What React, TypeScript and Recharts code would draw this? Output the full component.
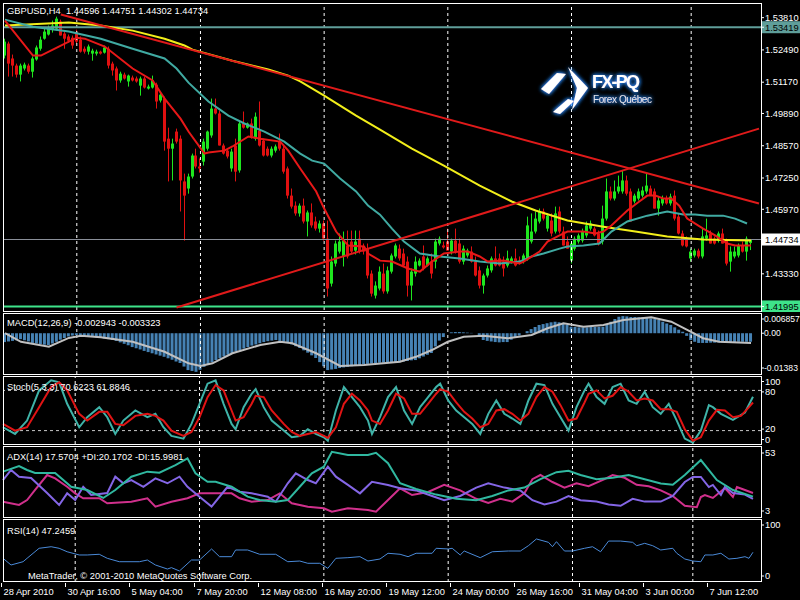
import React from 'react'
import { Bar, ComposedChart, Line, ReferenceLine, XAxis, YAxis } from 'recharts'

const FONT = '"Liberation Sans", Arial, sans-serif'
const SLOTS = 190

const UP = '#1ee61e'
const DOWN = '#e01010'

// GBPUSD H4, bar 0 = 28 Apr 2010 00:00
const opens = [
  1.5226, 1.5275, 1.5214, 1.5185, 1.5148, 1.5173, 1.5185, 1.516, 1.521, 1.5254, 1.5295, 1.5312, 1.5332, 1.5336, 1.5365, 1.5316,
  1.5304, 1.5299, 1.532, 1.5291, 1.5254, 1.5242, 1.5234, 1.5234, 1.5242, 1.5238, 1.5254, 1.5193, 1.5173, 1.5124, 1.5148, 1.512,
  1.5136, 1.5132, 1.5103, 1.5132, 1.5091, 1.5095, 1.5107, 1.5042, 1.505, 1.4886, 1.4845, 1.4915, 1.4886, 1.4711, 1.4682,
  1.4731, 1.4817, 1.4772, 1.4792, 1.4845, 1.4899, 1.5009, 1.4989, 1.4858, 1.4837, 1.4764, 1.4858, 1.4756, 1.4948, 1.4931, 1.4948,
  1.4886, 1.4919, 1.4878, 1.4845, 1.4817, 1.4837, 1.4874, 1.4845, 1.4764, 1.4653, 1.4612, 1.458, 1.4612, 1.4547, 1.4584, 1.4547,
  1.4518, 1.4539, 1.4477, 1.4293, 1.4375, 1.4424, 1.4404, 1.4449, 1.4465, 1.4428, 1.4477, 1.4445, 1.4436, 1.4334, 1.4244, 1.4273,
  1.4334, 1.4261, 1.4342, 1.4404, 1.4436, 1.4416, 1.4383, 1.4285, 1.4334, 1.4367, 1.4404, 1.4367, 1.4383, 1.4383, 1.4457, 1.4449,
  1.4465, 1.4424, 1.4469, 1.4457, 1.4383, 1.4408, 1.4424, 1.4383, 1.4347, 1.4285, 1.4326, 1.4347, 1.4396, 1.4396, 1.4383, 1.4367,
  1.4383, 1.4396, 1.4387, 1.4383, 1.4396, 1.4465, 1.4506, 1.4547, 1.4588, 1.4518, 1.4551, 1.4506, 1.4588, 1.4506, 1.4465,
  1.4387, 1.4436, 1.4465, 1.4469, 1.449, 1.4518, 1.4518, 1.4498, 1.4465, 1.4559, 1.467, 1.4641, 1.467, 1.467, 1.4715, 1.467,
  1.4629, 1.4641, 1.4653, 1.467, 1.4682, 1.467, 1.46, 1.4621, 1.4641, 1.4621, 1.4653, 1.4567, 1.4498, 1.4477, 1.4396, 1.4408,
  1.4428, 1.4404, 1.4477, 1.4498, 1.4477, 1.4469, 1.4498, 1.4469, 1.4383, 1.4404, 1.4408, 1.4449, 1.4424, 1.44596,
]
const highs = [
  1.5295, 1.5283, 1.523, 1.5193, 1.5193, 1.5197, 1.5193, 1.5222, 1.5267, 1.5304, 1.5336, 1.5349, 1.5369, 1.5385, 1.5373, 1.5324,
  1.5312, 1.5308, 1.5332, 1.5304, 1.5263, 1.5271, 1.5254, 1.525, 1.5246, 1.5267, 1.5263, 1.5201, 1.5181, 1.516, 1.5156, 1.5148,
  1.5144, 1.514, 1.514, 1.514, 1.5107, 1.5144, 1.5115, 1.5075, 1.5058, 1.4931, 1.4886, 1.4927, 1.4899, 1.4743, 1.4743,
  1.4825, 1.4845, 1.4805, 1.4886, 1.4919, 1.505, 1.505, 1.5001, 1.4866, 1.4845, 1.4845, 1.4886, 1.496, 1.4997, 1.4952, 1.4968,
  1.4993, 1.5038, 1.4886, 1.4854, 1.4854, 1.4862, 1.4907, 1.4862, 1.4772, 1.4682, 1.4629, 1.4621, 1.4641, 1.4592, 1.4621, 1.4567,
  1.4551, 1.4551, 1.4551, 1.4404, 1.4469, 1.4498, 1.4506, 1.451, 1.451, 1.451, 1.451, 1.4457, 1.4457, 1.4347, 1.4302, 1.4363,
  1.4375, 1.4363, 1.4416, 1.4457, 1.4453, 1.4436, 1.4404, 1.4355, 1.4404, 1.4396, 1.4449, 1.4404, 1.4416, 1.4477, 1.4486, 1.4465,
  1.4518, 1.4477, 1.4518, 1.4477, 1.4449, 1.4436, 1.4445, 1.4404, 1.4363, 1.4334, 1.4367, 1.4404, 1.4445, 1.4416, 1.4404, 1.4428,
  1.4404, 1.4436, 1.4404, 1.4416, 1.4567, 1.458, 1.4588, 1.46, 1.46, 1.458, 1.458, 1.4608, 1.4608, 1.4526, 1.4486,
  1.4465, 1.4486, 1.4498, 1.4518, 1.4547, 1.4551, 1.4526, 1.451, 1.4612, 1.4723, 1.469, 1.4715, 1.4735, 1.4756, 1.4735, 1.4682,
  1.4661, 1.4682, 1.469, 1.4743, 1.4694, 1.4682, 1.4649, 1.4653, 1.4653, 1.4661, 1.4674, 1.458, 1.451, 1.4486, 1.4436, 1.4436,
  1.4436, 1.4518, 1.4559, 1.451, 1.4486, 1.4506, 1.4518, 1.4477, 1.4445, 1.4445, 1.4457, 1.4465, 1.4486, 1.44751,
]
const lows = [
  1.5214, 1.514, 1.514, 1.5136, 1.512, 1.5165, 1.5152, 1.5136, 1.5205, 1.5246, 1.5291, 1.5308, 1.532, 1.5328, 1.5308, 1.5254,
  1.5279, 1.5254, 1.5275, 1.5238, 1.5234, 1.523, 1.5205, 1.5226, 1.523, 1.5234, 1.5173, 1.5144, 1.5083, 1.5115, 1.5128, 1.5099,
  1.512, 1.5115, 1.5062, 1.5091, 1.5087, 1.5091, 1.5009, 1.5034, 1.4837, 1.4711, 1.4715, 1.4866, 1.4588, 1.4469, 1.4661,
  1.4723, 1.4764, 1.4747, 1.4776, 1.4837, 1.489, 1.4985, 1.4858, 1.4821, 1.4805, 1.4751, 1.4711, 1.4747, 1.4927, 1.4927, 1.4886,
  1.4878, 1.4854, 1.4813, 1.4813, 1.4809, 1.4829, 1.4837, 1.4743, 1.4641, 1.46, 1.4571, 1.4567, 1.4539, 1.4486, 1.4522, 1.451,
  1.4502, 1.4469, 1.424, 1.4281, 1.4363, 1.4416, 1.4363, 1.4396, 1.4416, 1.4412, 1.4416, 1.4412, 1.4314, 1.424, 1.4232, 1.4265,
  1.4252, 1.4252, 1.4334, 1.4396, 1.4387, 1.4363, 1.424, 1.4224, 1.4322, 1.4363, 1.4347, 1.4363, 1.4314, 1.4355, 1.4449, 1.4436,
  1.4428, 1.4412, 1.4416, 1.4375, 1.4371, 1.44, 1.4379, 1.4322, 1.4273, 1.4252, 1.4318, 1.4338, 1.4363, 1.4363, 1.4322, 1.4359,
  1.4375, 1.4363, 1.4371, 1.4375, 1.4387, 1.4457, 1.4498, 1.4539, 1.4551, 1.4506, 1.4486, 1.4498, 1.4498, 1.4449, 1.4436,
  1.4375, 1.4428, 1.4457, 1.4461, 1.4481, 1.451, 1.4486, 1.4449, 1.4453, 1.4551, 1.4633, 1.4633, 1.4661, 1.4661, 1.4653, 1.4547,
  1.4621, 1.4633, 1.4645, 1.4661, 1.4653, 1.46, 1.4571, 1.4612, 1.4616, 1.4612, 1.4551, 1.4494, 1.4445, 1.4441, 1.4383, 1.44,
  1.4396, 1.4396, 1.4469, 1.4457, 1.4453, 1.4461, 1.4457, 1.4367, 1.4342, 1.4396, 1.44, 1.442, 1.4387, 1.44302,
]
const closes = [
  1.5283, 1.5193, 1.5185, 1.5148, 1.5185, 1.5189, 1.516, 1.5214, 1.5259, 1.5291, 1.5324, 1.534, 1.5349, 1.5377, 1.5308, 1.5295,
  1.5287, 1.5267, 1.5283, 1.5242, 1.5242, 1.5263, 1.5246, 1.5242, 1.5234, 1.5259, 1.5185, 1.5165, 1.5124, 1.5152, 1.5132, 1.5144,
  1.5124, 1.512, 1.5132, 1.5095, 1.5099, 1.5124, 1.5038, 1.5066, 1.4874, 1.4845, 1.4866, 1.4874, 1.4715, 1.4653, 1.4731,
  1.4817, 1.4772, 1.4764, 1.4874, 1.4915, 1.5009, 1.4989, 1.4858, 1.4825, 1.4813, 1.4833, 1.4751, 1.4948, 1.4931, 1.4948, 1.4895,
  1.4976, 1.4858, 1.4817, 1.4817, 1.4845, 1.4854, 1.4845, 1.4751, 1.4653, 1.4608, 1.458, 1.4612, 1.4547, 1.4584, 1.4531, 1.4518,
  1.4539, 1.4477, 1.4273, 1.4383, 1.4457, 1.4465, 1.4469, 1.4404, 1.4424, 1.4465, 1.4424, 1.4424, 1.4326, 1.4252, 1.4285, 1.4342,
  1.4261, 1.4347, 1.4408, 1.4449, 1.4396, 1.4367, 1.4285, 1.4342, 1.4383, 1.4387, 1.4355, 1.4396, 1.4334, 1.4465, 1.4477, 1.4441,
  1.4428, 1.4469, 1.4424, 1.4383, 1.4436, 1.4428, 1.4383, 1.4326, 1.4285, 1.4326, 1.4355, 1.4396, 1.4367, 1.4367, 1.4355, 1.4396,
  1.4396, 1.4367, 1.4375, 1.4408, 1.4531, 1.4506, 1.4559, 1.4588, 1.4559, 1.4571, 1.4498, 1.458, 1.4506, 1.4449, 1.4436,
  1.4457, 1.4477, 1.449, 1.4506, 1.4531, 1.4539, 1.449, 1.4457, 1.4559, 1.467, 1.4641, 1.467, 1.469, 1.4715, 1.4661, 1.4547,
  1.4653, 1.467, 1.4674, 1.4694, 1.4653, 1.46, 1.4633, 1.4641, 1.4621, 1.4649, 1.4559, 1.4498, 1.4449, 1.4445, 1.4424, 1.4428,
  1.4404, 1.4486, 1.449, 1.4457, 1.4457, 1.4498, 1.4457, 1.4375, 1.4424, 1.4424, 1.4449, 1.4424, 1.4477, 1.44734,
]

// moving averages: [bar, price]
const maFast = [
  [0, 1.5369], [7, 1.5226], [9, 1.5226], [14, 1.5267], [18, 1.5299], [20, 1.5295], [25, 1.5263], [32, 1.5173], [37, 1.5124],
  [40, 1.505], [44, 1.4968], [46, 1.4915], [50, 1.4825], [51, 1.4829], [55, 1.4837], [57, 1.4854], [61, 1.4895], [64, 1.4886],
  [69, 1.4874], [71, 1.4837], [74, 1.4764], [78, 1.467], [80, 1.46], [83, 1.4506], [86, 1.4449], [90, 1.4445], [91, 1.4416],
  [94, 1.4387], [97, 1.4383], [101, 1.4355], [104, 1.4342], [107, 1.4383], [110, 1.4416], [114, 1.4424], [116, 1.4424],
  [119, 1.4404], [121, 1.4383], [125, 1.4387], [129, 1.4375], [130, 1.4383], [134, 1.4424], [136, 1.4465], [139, 1.449],
  [141, 1.4506], [145, 1.4506], [148, 1.4498], [150, 1.4506], [152, 1.4531], [156, 1.4592], [159, 1.4629], [161, 1.4653],
  [163, 1.4653], [165, 1.4641], [167, 1.4641], [169, 1.4612], [171, 1.4559], [175, 1.4518], [178, 1.449], [181, 1.4457],
  [183, 1.4449], [187, 1.4449],
]
const maMid = [
  [0, 1.5373], [7, 1.5344], [16, 1.5324], [24, 1.5295], [32, 1.5254], [40, 1.5214], [43, 1.5173], [46, 1.5115], [51, 1.5038],
  [56, 1.498], [60, 1.4948], [65, 1.4915], [70, 1.4874], [74, 1.4825], [77, 1.4796], [80, 1.4784], [84, 1.4723], [88, 1.467],
  [91, 1.4612], [94, 1.4575], [97, 1.4518], [100, 1.4465], [104, 1.4416], [109, 1.4404], [114, 1.4396], [119, 1.4383],
  [124, 1.4375], [129, 1.4383], [132, 1.4404], [135, 1.4416], [139, 1.4436], [141, 1.4445], [145, 1.4449], [149, 1.4457],
  [152, 1.4506], [156, 1.4547], [161, 1.4571], [166, 1.4588], [170, 1.4576], [173, 1.4576], [176, 1.4571], [180, 1.4571],
  [183, 1.4559], [186, 1.4539],
]
const maSlow = [
  [0, 1.5349], [16, 1.5361], [24, 1.5349], [32, 1.5328], [40, 1.5295], [45, 1.5267], [47, 1.525], [57, 1.5205], [66, 1.5169],
  [71, 1.5144], [74, 1.512], [80, 1.5062], [84, 1.5021], [88, 1.498], [94, 1.4923], [102, 1.4845], [110, 1.4776], [119, 1.4694],
  [127, 1.4629], [133, 1.4592], [141, 1.4551], [150, 1.4526], [158, 1.4506], [166, 1.4486], [175, 1.4473], [187, 1.4469],
]

// trend lines: [bar, price] end points
const trendDown = [[14, 1.5394], [189, 1.4621]]
const trendUp = [[43, 1.4195], [189, 1.4927]]

const levelTop = 1.53419
const levelBid = 1.44734
const levelLow = 1.41995
const priceTicks = [1.5381, 1.5249, 1.5117, 1.4989, 1.4857, 1.4725, 1.4597, 1.4333]

const weekLines = [18, 49, 80, 111, 142, 172]
const timeLabels = [
  '28 Apr 2010', '30 Apr 16:00', '5 May 04:00', '7 May 20:00', '12 May 08:00', '16 May 20:00',
  '19 May 12:00', '24 May 00:00', '26 May 16:00', '31 May 04:00', '3 Jun 00:00', '7 Jun 12:00',
]

// MACD(12,26,9)
const macdMain = [
  -0.003, -0.0028, -0.0026, -0.0024, -0.002, -0.0024, -0.0028, -0.0033, -0.0035, -0.0037, -0.0039, -0.004,
  -0.0035, -0.0029, -0.0022, -0.0016, -0.0011, -0.0008, -0.0006, -0.0007, -0.0009, -0.0011, -0.0012, -0.0014, -0.0016,
  -0.0018, -0.002, -0.0023, -0.0026, -0.0031, -0.0036, -0.0041, -0.0047, -0.0051, -0.0055, -0.006, -0.0064,
  -0.0068, -0.0072, -0.0076, -0.008, -0.0085, -0.009, -0.0096, -0.0101, -0.0113, -0.0125, -0.0128, -0.0131,
  -0.0124, -0.0114, -0.0106, -0.0098, -0.0091, -0.0085, -0.0079, -0.0073, -0.0067, -0.0062, -0.0057, -0.0052, -0.0047,
  -0.0042, -0.0038, -0.0034, -0.003, -0.0027, -0.0025, -0.0023, -0.0026, -0.0029, -0.0033, -0.0038, -0.0044, -0.005,
  -0.0058, -0.0066, -0.0075, -0.0084, -0.0098, -0.0112, -0.0125, -0.0123, -0.0121, -0.0118,
  -0.0116, -0.0114, -0.0112, -0.011, -0.0108, -0.0106, -0.0104, -0.0103, -0.0101,
  -0.01, -0.01, -0.0099, -0.0099, -0.0098, -0.0098, -0.0096, -0.0094, -0.0092, -0.0091,
  -0.0085, -0.0079, -0.0073, -0.0067, -0.0045, -0.0025, -0.0013, 0, 0.0003, 0.0004, 0.0004, 0.0003, 0.0002, 0.0001, 0,
  -0.0012, -0.0023, -0.0026, -0.0028, -0.003, -0.0031, -0.003, -0.003, -0.0022, -0.0015, -0.0008, 0,
  0.0007, 0.0014, 0.0021, 0.0028, 0.0031, 0.0034, 0.0037, 0.0039, 0.0037, 0.0035, 0.0029, 0.0022,
  0.0021, 0.002, 0.002, 0.002, 0.0021, 0.0021, 0.0022, 0.0022, 0.003, 0.0039, 0.0048, 0.0056,
  0.0058, 0.0057, 0.0055, 0.0055, 0.0054, 0.0054, 0.0052, 0.005, 0.0048, 0.0045, 0.0039, 0.0033, 0.0028,
  0.002, 0.0012, 0.0005, -0.0009, -0.0023, -0.0029, -0.0033,
  -0.0033, -0.0033, -0.0032, -0.0032, -0.0031, -0.0031, -0.003, -0.003, -0.003, -0.0029, -0.0029, -0.0029, -0.0029,
]
const macdSignal = [
  [0, 0], [4, -0.0029], [11, -0.0046], [16, -0.0016], [19, -0.0009], [24, -0.0014], [32, -0.0029], [40, -0.0063],
  [46, -0.0102], [49, -0.0111], [52, -0.0102], [57, -0.0068], [64, -0.004], [69, -0.0029], [72, -0.0034], [78, -0.0068],
  [84, -0.0111], [90, -0.0108], [99, -0.0097], [103, -0.008], [107, -0.0057], [111, -0.0029], [115, -0.0012], [120, -0.0009],
  [126, -0.0017], [132, -0.0006], [136, 0.0017], [140, 0.0034], [145, 0.0022], [150, 0.0028], [155, 0.0045], [162, 0.0054],
  [167, 0.0039], [171, 0.0011], [175, -0.0017], [179, -0.0029], [187, -0.0033],
]

// Stochastic(5,3,3)
const stochMain = [
  [0, 25], [3, 15], [6, 35], [9, 80], [12, 95], [14, 92], [16, 60], [19, 25], [21, 40], [24, 55], [26, 40], [28, 15], [30, 35],
  [33, 50], [36, 40], [38, 45], [40, 25], [42, 12], [45, 8], [47, 30], [49, 60], [51, 90], [53, 95], [55, 60], [57, 30], [58, 22],
  [60, 55], [62, 75], [63, 82], [65, 55], [67, 35], [70, 20], [72, 10], [74, 12], [76, 22], [78, 15], [80, 10], [81, 5], [83, 50],
  [85, 85], [87, 70], [89, 55], [91, 35], [92, 15], [94, 40], [96, 70], [98, 85], [100, 50], [102, 30], [104, 55], [106, 70],
  [108, 85], [109, 90], [111, 65], [113, 50], [115, 40], [117, 30], [119, 15], [121, 45], [123, 65], [125, 45], [127, 38],
  [129, 30], [131, 65], [133, 90], [135, 88], [137, 60], [139, 40], [141, 20], [143, 55], [145, 80], [146, 90], [148, 70],
  [150, 60], [152, 85], [154, 90], [156, 65], [158, 60], [160, 78], [162, 55], [164, 45], [166, 60], [168, 35], [170, 8],
  [172, 2], [174, 20], [176, 58], [177, 55], [179, 45], [182, 36], [185, 47], [187, 70.6],
]
const stochSignal = [
  [0, 30], [3, 20], [6, 25], [9, 55], [12, 85], [14, 92], [16, 80], [19, 45], [21, 35], [24, 48], [26, 48], [28, 30], [30, 28],
  [33, 42], [36, 45], [38, 42], [40, 35], [42, 20], [45, 12], [47, 18], [49, 40], [51, 70], [53, 88], [55, 80], [57, 50], [58, 35],
  [60, 40], [62, 60], [63, 72], [65, 70], [67, 50], [70, 30], [72, 18], [74, 12], [76, 15], [78, 18], [80, 12], [81, 9], [83, 25],
  [85, 60], [87, 75], [89, 65], [91, 50], [92, 35], [94, 30], [96, 50], [98, 75], [100, 68], [102, 45], [104, 45], [106, 60],
  [108, 75], [109, 82], [111, 78], [113, 62], [115, 48], [117, 38], [119, 25], [121, 30], [123, 50], [125, 52], [127, 45],
  [129, 35], [131, 45], [133, 70], [135, 85], [137, 78], [139, 58], [141, 35], [143, 38], [145, 62], [146, 75], [148, 80],
  [150, 68], [152, 72], [154, 85], [156, 78], [158, 65], [160, 68], [162, 65], [164, 52], [166, 52], [168, 48], [170, 22],
  [172, 5], [174, 10], [176, 35], [178, 51], [180, 50], [182, 40], [184, 42], [186, 55], [187, 61.9],
]

// ADX(14)
const adxMain = [
  [0, 35.4], [4, 39.4], [6, 36.6], [8, 34.4], [13, 34.4], [17, 24.6], [21, 22.3], [25, 16.6], [28, 22.3], [32, 31.8], [36, 35.4],
  [39, 34.6], [43, 40.1], [46, 44.9], [48, 34.2], [51, 28.2], [53, 28.2], [57, 24.6], [61, 17.5], [64, 15.1], [68, 13.9],
  [71, 15.1], [74, 24.6], [77, 34.2], [80, 38.9], [82, 49.6], [86, 47.3], [91, 47.3], [93, 48.9], [96, 41.4], [99, 27.1],
  [103, 23], [108, 19], [113, 16], [118, 15], [122, 18], [126, 22], [130, 24], [134, 30], [138, 35], [141, 36], [144, 33],
  [148, 30], [152, 31], [156, 33], [160, 30], [164, 27], [167, 26], [170, 33], [173, 41], [174, 43.7], [178, 29.4],
  [182, 22.3], [187, 17.57],
]
const plusDi = [
  [0, 13.9], [4, 11.6], [6, 15.1], [8, 22.3], [11, 33], [13, 30.6], [16, 24.6], [18, 19.9], [20, 16.4], [24, 16.4], [26, 12.8],
  [32, 13.9], [36, 16.4], [38, 10.4], [42, 13.9], [46, 16.4], [49, 19.9], [53, 19.9], [57, 19.9], [59, 16.4], [62, 13.9],
  [66, 15.1], [69, 19.9], [72, 12.8], [76, 10.4], [80, 9.2], [82, 6.8], [86, 9.2], [91, 8], [93, 6.8], [96, 15.1], [99, 23.5],
  [102, 18.7], [106, 20.9], [110, 26], [114, 22], [118, 16], [121, 13], [124, 16], [127, 14], [130, 20], [132, 30], [134, 33],
  [137, 28], [140, 24], [143, 27], [146, 25], [150, 30], [152, 33], [155, 31], [158, 26], [161, 25], [164, 22], [167, 18],
  [170, 11], [173, 10], [174, 17.3], [175, 18.7], [177, 16.6], [180, 23.7], [182, 17.3], [183, 24.4], [185, 22.3], [187, 20.17],
]
const minusDi = [
  [0, 29.4], [2, 36.6], [4, 31.8], [7, 30.9], [11, 20.1], [14, 11.6], [16, 19.9], [18, 15.1], [20, 24.6], [22, 18.7], [26, 20.1],
  [28, 31.8], [30, 27.1], [32, 29.4], [35, 24.6], [38, 30.6], [41, 27.1], [44, 31.8], [46, 24.6], [49, 17.5], [52, 10.4],
  [56, 24.6], [59, 21.1], [62, 19.9], [66, 17.5], [68, 13.9], [71, 27.1], [73, 34.2], [76, 29.4], [78, 27.1], [81, 38.9],
  [83, 31.8], [86, 25.9], [89, 19.9], [92, 28.2], [96, 25.9], [99, 23.5], [103, 22], [107, 18], [110, 15], [114, 18], [118, 24],
  [121, 27], [125, 24], [129, 22], [132, 15], [135, 12], [138, 14], [141, 18], [144, 15], [148, 14], [151, 12], [154, 11],
  [157, 16], [160, 14], [164, 14], [167, 18], [170, 28], [172, 31.6], [174, 31.6], [176, 24.4], [177, 25.9], [179, 18.7],
  [180, 24.4], [182, 20.1], [185, 19], [187, 16],
]

// RSI(14)
const rsi = [
  [0, 37.6], [2, 27], [5, 32.2], [6, 37.6], [9, 53.5], [12, 56], [14, 53.5], [16, 48], [19, 42.9], [21, 42.9], [24, 44],
  [26, 37.6], [29, 32.2], [34, 32.2], [36, 34.9], [38, 27], [41, 20.6], [42, 22.8], [44, 17.5], [47, 34.9], [49, 34.9],
  [52, 52.4], [54, 40.2], [57, 40.2], [58, 50.8], [61, 50.8], [64, 44], [68, 44], [71, 32.2], [74, 33.3], [76, 29.7],
  [79, 29.7], [81, 21.7], [83, 37.6], [86, 38.6], [89, 40.2], [91, 33.3], [94, 36.5], [96, 45.6], [99, 44], [101, 40.2],
  [103, 45.6], [107, 45.6], [108, 53.5], [111, 52.4], [112, 53.5], [114, 42.9], [115, 49.2], [119, 38.6], [122, 48],
  [126, 49.2], [129, 49.2], [131, 57.6], [133, 68.3], [136, 63], [137, 56], [138, 64], [140, 49.2], [142, 49.2], [145, 53.5],
  [147, 56], [149, 48], [151, 65], [154, 65], [157, 63], [158, 57.6], [160, 61.4], [162, 57.6], [164, 50.8], [167, 53.5],
  [168, 45.6], [170, 36.5], [172, 33.3], [174, 32.2], [175, 42.9], [177, 42.9], [179, 45.6], [181, 36.5], [183, 37.6],
  [185, 40.2], [186, 37.6], [187, 47.2],
]

const pick = (pairs: number[][], i: number) => {
  const hit = pairs.find((p) => p[0] === i)
  return hit ? hit[1] : null
}

const slots = Array.from({ length: SLOTS }, (_, i) => i)

const priceRows = slots.map((i) => ({
  i,
  o: opens[i] ?? null,
  h: highs[i] ?? null,
  l: lows[i] ?? null,
  c: closes[i] ?? null,
  range: highs[i] != null ? [lows[i], highs[i]] : null,
  fast: pick(maFast, i),
  mid: pick(maMid, i),
  slow: pick(maSlow, i),
  tDown: pick(trendDown, i),
  tUp: pick(trendUp, i),
}))

const macdRows = slots.map((i) => ({ i, hist: macdMain[i] ?? null, sig: pick(macdSignal, i) }))
const stochRows = slots.map((i) => ({ i, k: pick(stochMain, i), d: pick(stochSignal, i) }))
const adxRows = slots.map((i) => ({ i, adx: pick(adxMain, i), pdi: pick(plusDi, i), mdi: pick(minusDi, i) }))
const rsiRows = slots.map((i) => ({ i, rsi: pick(rsi, i) }))

const Candle = (props: any) => {
  const { x, y, width, height, payload } = props
  if (!payload || payload.h == null) return null
  const top = Math.min(y, y + height)
  const h = Math.abs(height)
  const span = payload.h - payload.l
  const py = (v: number) => (span === 0 ? top : top + ((payload.h - v) / span) * h)
  const color = payload.c >= payload.o ? UP : DOWN
  const cx = Math.floor(x + width / 2) + 0.5
  const bTop = py(Math.max(payload.o, payload.c))
  const bBot = py(Math.min(payload.o, payload.c))
  return (
    <g>
      <line x1={cx} x2={cx} y1={top} y2={top + h} stroke={color} strokeWidth={1} />
      <rect x={cx - 1.5} y={bTop} width={3} height={Math.max(1, bBot - bTop)} fill={color} />
    </g>
  )
}

const PriceTick = (props: any) => {
  const { y, payload } = props
  const v = payload.value
  const box = v === levelTop ? '#5f9e9a' : v === levelBid ? '#ffffff' : v === levelLow ? '#3ee38a' : null
  return (
    <g>
      {box && <rect x={762} y={y - 6} width={38} height={12} fill={box} />}
      <line x1={761} x2={764} y1={y} y2={y} stroke="#fff" />
      <text x={765} y={y + 3.3} fill={box ? '#000' : '#fff'} fontSize={9.3} fontFamily={FONT}>
        {v.toFixed(5)}
      </text>
    </g>
  )
}

// right-hand labels of the indicator panels; edge labels sit just inside the panel
const makeSideTick = (shift: Record<string, number>, fmt: (v: number) => string, size = 9.3, left = 765) =>
  function SideTick(props: any) {
    const { y, payload } = props
    const v = payload.value
    const dy = shift[String(v)] ?? 0
    return (
      <g>
        <line x1={761} x2={764} y1={y + dy} y2={y + dy} stroke="#fff" />
        <text x={left} y={y + dy + 3.2} fill="#fff" fontSize={size} fontFamily={FONT}>
          {fmt(v)}
        </text>
      </g>
    )
  }

const MacdTick = makeSideTick(
  { '0.006857': 6, '-0.01383': -6 },
  (v) => (v === 0 ? '0.00' : v > 0 ? '0.006857' : '-0.01383'),
  8.6,
  764,
)
const StochTick = makeSideTick({ '100': 4.5, '80': 1.5, '20': -1.5, '0': -4.5 }, (v) => String(v))
const AdxTick = makeSideTick({ '53': 6, '3': -6 }, (v) => String(v))
const RsiTick = makeSideTick({ '100': 6, '0': -6 }, (v) => String(v))

const TimeTick = (props: any) => {
  const { x, payload } = props
  const label = timeLabels[Math.round(payload.value / 16)]
  if (!label) return null
  const px = Math.round(x) + 0.5
  return (
    <g>
      <line x1={px - 2} x2={px - 2} y1={70} y2={74} stroke="#fff" />
      <text x={px} y={82} fill="#fff" fontSize={9.3} fontFamily={FONT}>
        {label}
      </text>
    </g>
  )
}

const weekGrid = () =>
  weekLines.map((w) => <ReferenceLine key={w} x={w} stroke="#ffffff" strokeDasharray="3 3" />)

const Panel = ({ top, height, children }: any) => (
  <div style={{ position: 'absolute', left: 0, top, width: 800, height }}>{children}</div>
)

const side = { orientation: 'right' as const, width: 39, allowDataOverflow: true, interval: 0, axisLine: false, tickLine: false }

export default function App() {
  return (
    <div style={{ position: 'absolute', left: 0, top: 0, width: 800, height: 600, background: '#000', overflow: 'hidden' }}>
      <Panel top={0} height={312}>
        <ComposedChart width={800} height={312} data={priceRows} margin={{ top: 3, right: 0, bottom: 2, left: 3 }}>
          <XAxis dataKey="i" hide />
          <YAxis
            {...side}
            domain={[1.4185, 1.5441]}
            ticks={[...priceTicks, levelTop, levelBid, levelLow]}
            tick={<PriceTick />}
          />
          {weekGrid()}
          <ReferenceLine y={levelTop} stroke="#5f9e9a" strokeWidth={2} />
          <ReferenceLine y={levelBid} stroke="#8a8f99" />
          <ReferenceLine y={levelLow} stroke="#3ee38a" strokeWidth={2} />
          <Bar dataKey="range" barSize={3} shape={<Candle />} isAnimationActive={false} />
          <Line dataKey="slow" stroke="#f2ee1a" strokeWidth={2} dot={false} connectNulls isAnimationActive={false} />
          <Line dataKey="mid" stroke="#40aaa2" strokeWidth={2} dot={false} connectNulls isAnimationActive={false} />
          <Line dataKey="fast" stroke="#e81818" strokeWidth={2} dot={false} connectNulls isAnimationActive={false} />
          <Line dataKey="tDown" stroke="#e01a1a" strokeWidth={2} dot={false} connectNulls isAnimationActive={false} />
          <Line dataKey="tUp" stroke="#e01a1a" strokeWidth={2} dot={false} connectNulls isAnimationActive={false} />
        </ComposedChart>
      </Panel>

      <Panel top={307} height={73}>
        <ComposedChart width={800} height={73} data={macdRows} margin={{ top: 6, right: 0, bottom: 6, left: 3 }}>
          <XAxis dataKey="i" hide />
          <YAxis {...side} domain={[-0.01383, 0.006857]} ticks={[0.006857, 0, -0.01383]} tick={<MacdTick />} />
          {weekGrid()}
          <Bar dataKey="hist" fill="#4682b4" barSize={3} isAnimationActive={false} />
          <Line dataKey="sig" stroke="#c0c0c0" strokeWidth={2} dot={false} connectNulls isAnimationActive={false} />
        </ComposedChart>
      </Panel>

      <Panel top={371} height={79}>
        <ComposedChart width={800} height={79} data={stochRows} margin={{ top: 6, right: 0, bottom: 6, left: 3 }}>
          <XAxis dataKey="i" hide />
          <YAxis {...side} domain={[0, 100]} ticks={[100, 80, 20, 0]} tick={<StochTick />} />
          {weekGrid()}
          <ReferenceLine y={80} stroke="#c8c8c8" strokeDasharray="3 3" />
          <ReferenceLine y={20} stroke="#c8c8c8" strokeDasharray="3 3" />
          <Line dataKey="k" stroke="#3fb3a8" strokeWidth={2} dot={false} connectNulls isAnimationActive={false} />
          <Line dataKey="d" stroke="#e01414" strokeWidth={2} dot={false} connectNulls isAnimationActive={false} />
        </ComposedChart>
      </Panel>

      <Panel top={441} height={82}>
        <ComposedChart width={800} height={82} data={adxRows} margin={{ top: 6, right: 0, bottom: 6, left: 3 }}>
          <XAxis dataKey="i" hide />
          <YAxis {...side} domain={[3, 53]} ticks={[53, 3]} tick={<AdxTick />} />
          {weekGrid()}
          <Line dataKey="pdi" stroke="#d0308c" strokeWidth={2} dot={false} connectNulls isAnimationActive={false} />
          <Line dataKey="mdi" stroke="#8466e6" strokeWidth={2} dot={false} connectNulls isAnimationActive={false} />
          <Line dataKey="adx" stroke="#30b8a0" strokeWidth={2} dot={false} connectNulls isAnimationActive={false} />
        </ComposedChart>
      </Panel>

      <Panel top={513} height={87}>
        <ComposedChart width={800} height={87} data={rsiRows} margin={{ top: 6, right: 0, bottom: 0, left: 3 }}>
          <XAxis
            dataKey="i"
            height={18}
            interval={15}
            axisLine={false}
            tickLine={false}
            tick={<TimeTick />}
          />
          <YAxis {...side} domain={[0, 100]} ticks={[100, 0]} tick={<RsiTick />} />
          {weekGrid()}
          <Line dataKey="rsi" stroke="#4a8ad8" strokeWidth={1} dot={false} connectNulls isAnimationActive={false} />
        </ComposedChart>
      </Panel>

      <svg
        width={800}
        height={600}
        style={{ position: 'absolute', left: 0, top: 0, pointerEvents: 'none' }}
        fontFamily={FONT}
      >
        <defs>
          <filter id="glow" x="-50%" y="-50%" width="200%" height="200%">
            <feGaussianBlur in="SourceAlpha" stdDeviation="2.2" result="b" />
            <feFlood floodColor="#2a8cff" />
            <feComposite in2="b" operator="in" result="g" />
            <feMerge>
              <feMergeNode in="g" />
              <feMergeNode in="g" />
              <feMergeNode in="SourceGraphic" />
            </feMerge>
          </filter>
        </defs>

        <g fill="none" stroke="#fff" strokeWidth={1}>
          <rect x={3.5} y={3.5} width={758} height={308} />
          <rect x={3.5} y={313.5} width={758} height={61} />
          <rect x={3.5} y={376.5} width={758} height={68} />
          <rect x={3.5} y={446.5} width={758} height={71} />
          <rect x={3.5} y={519.5} width={758} height={62} />
        </g>

        <g fill="#fff" fontSize={9.3}>
          <text x={7} y={14} style={{ whiteSpace: 'pre' }}>
            {'GBPUSD,H4  1.44596 1.44751 1.44302 1.44734'}
          </text>
          <text x={7} y={326}>MACD(12,26,9) -0.002943 -0.003323</text>
          <text x={7} y={390}>Stoch(5,3,3) 70.6223 61.8846</text>
          <text x={7} y={460}>ADX(14) 17.5704 +DI:20.1702 -DI:15.9981</text>
          <text x={7} y={533.5}>RSI(14) 47.2459</text>
          <text x={28} y={579}>MetaTrader, © 2001-2010 MetaQuotes Software Corp.</text>
        </g>

        <g filter="url(#glow)">
          <polygon points="541,89 557,73 566,74 549,94" fill="#fff" />
          <polygon points="568,67 588,88 572,110 577,88" fill="#fff" />
          <polygon points="553,112 568,99 574,101 560,114" fill="#fff" />
          <text x={592} y={88} fontSize={18} fontWeight="bold" fill="#fff" textLength={48}>
            FX-PQ
          </text>
          <text x={593} y={102.5} fontSize={10} fill="#dfe6ee" textLength={59}>
            Forex Québec
          </text>
        </g>
      </svg>
    </div>
  )
}
